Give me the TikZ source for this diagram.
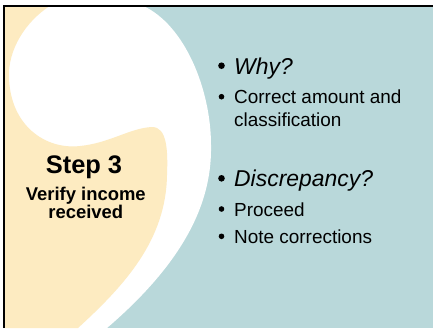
\documentclass[tikz,border=0pt]{standalone}
\usepackage{fontspec}
\setmainfont{Liberation Sans}
\usetikzlibrary{calc}
\definecolor{creamfill}{HTML}{FDEBC1}
\definecolor{tealfill}{HTML}{B9D8DA}
\tikzset{
  itemtext/.style={anchor=base west, inner sep=0pt, font=\fontsize{19}{22}\selectfont},
  itemhead/.style={itemtext, font=\fontsize{23}{26}\selectfont\itshape},
  steptext/.style={anchor=base, inner sep=0pt, font=\fontsize{18.5}{20}\selectfont\bfseries},
}

\begin{document}
\begin{tikzpicture}[x=1bp,y=-1bp]
\useasboundingbox (0,0) rectangle (433,328);
\fill[white] (0,0) rectangle (433,328);
\fill[tealfill] (4.3,5.8) rectangle (433,328);
% white comma
\fill[white] (4.3,5.8) -- (143,5.8) .. controls (185,25) and (211,90) .. (211,145)
  .. controls (212,195) and (192,255) .. (107,328) -- (4.3,328) -- cycle;
% cream side
\fill[creamfill] (4.3,5.8) -- (50,5.8) .. controls (25,22) and (8,50) .. (9,77)
  .. controls (10,125) and (45,150) .. (80,146)
  .. controls (110,143) and (130,128) .. (152,127)
  .. controls (167,127) and (168,150) .. (167,175)
  .. controls (166,240) and (125,285) .. (78,328) -- (4.3,328) -- cycle;
\draw[line width=2bp] (4.3,328) -- (4.3,5.8) -- (433,5.8);

\node[steptext, font=\fontsize{25.5}{28}\selectfont\bfseries] (step) at (84,173.3) {Step 3};
\node[steptext] (verify) at (85.8,200) {Verify income};
\node[steptext] (received) at (85.8,218.3) {received};

\node[itemhead] (why) at (234,74.3) {Why?};
\node[itemtext] (correct) at (234,103.5) {Correct amount and};
\node[itemtext] (classif) at (234,126) {classification};
\node[itemhead] (discrep) at (234,186.7) {Discrepancy?};
\node[itemtext] (proceed) at (234,216) {Proceed};
\node[itemtext] (note) at (234,243.3) {Note corrections};

\fill ($(why.base west)+(-12.5,-8.6)$) circle (3.3);
\fill ($(correct.base west)+(-12.5,-6.8)$) circle (2.8);
\fill ($(discrep.base west)+(-12.5,-8.4)$) circle (3.3);
\fill ($(proceed.base west)+(-12.5,-7)$) circle (2.8);
\fill ($(note.base west)+(-12.5,-7)$) circle (2.8);
\end{tikzpicture}
\end{document}
